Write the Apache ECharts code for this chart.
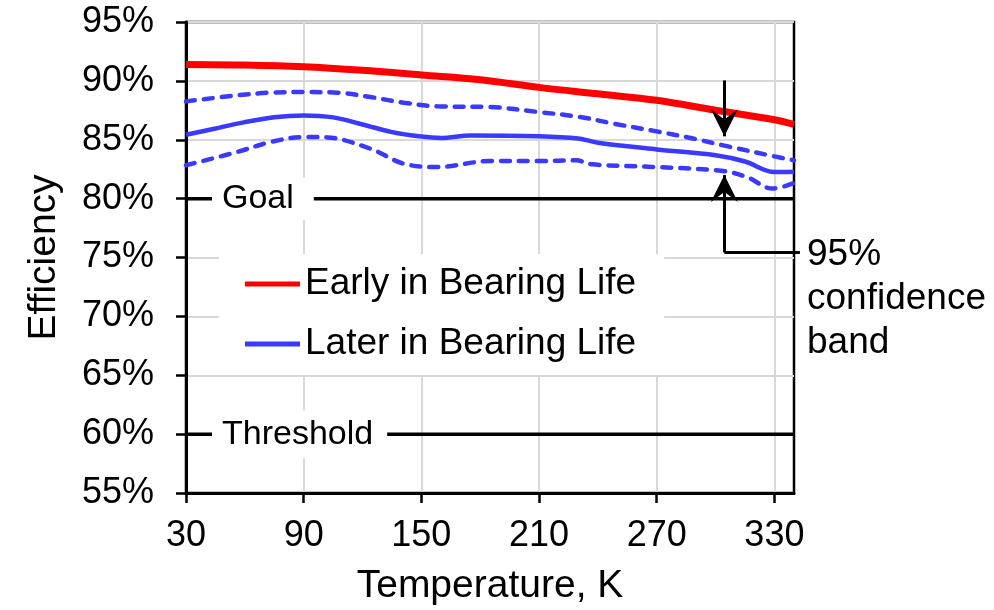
<!DOCTYPE html>
<html>
<head>
<meta charset="utf-8">
<title>Efficiency vs Temperature</title>
<script src="https://cdn.jsdelivr.net/npm/echarts@6/dist/echarts.min.js"></script>
<style>
html, body { margin: 0; padding: 0; background: #fff; }
#main { width: 994px; height: 610px; }
</style>
</head>
<body>
<div id="main"></div>
<script>
// data (temperature in K, efficiency in %)
var earlyTemp = [30, 60, 90, 120, 150, 180, 210, 240, 270, 300, 330, 340];
var earlyEff = [91.4, 91.35, 91.2, 90.9, 90.5, 90.1, 89.45, 88.9, 88.35, 87.5, 86.7, 86.3];

var laterTemp = [30, 45, 60, 75, 90, 105, 120, 135, 150, 160, 175, 210, 230, 240, 270, 300, 315, 330, 340];
var laterEff = [85.43, 85.95, 86.5, 86.92, 87.07, 86.9, 86.3, 85.65, 85.27, 85.15, 85.37, 85.3, 85.1, 84.75, 84.18, 83.68, 83.15, 82.26, 82.29];

// 95% confidence band of the later curve
var upperTemp = [30, 56, 73, 90, 107, 124, 141, 158, 185, 210, 231, 248, 270, 289, 304, 330, 340];
var upperEff = [88.26, 88.77, 89.0, 89.05, 89.0, 88.63, 88.15, 87.84, 87.78, 87.35, 86.93, 86.37, 85.71, 85.09, 84.52, 83.59, 83.25];
var lowerTemp = [30, 56, 73, 90, 102, 124, 141, 158, 185, 210, 229, 237, 270, 304, 316, 329, 340];
var lowerEff = [82.83, 83.96, 84.8, 85.23, 85.2, 84.24, 82.97, 82.68, 83.19, 83.19, 83.25, 82.91, 82.68, 82.34, 81.83, 80.85, 81.32];

var tempRange = [30, 340];
var tempTicks = [30, 90, 150, 210, 270, 330];
var goalLevel = [80, 80];
var thresholdLevel = [60, 60];
var legendNames = ["Early in Bearing Life", "Later in Bearing Life"];
var noteLines = ["95%", "confidence", "band"];

// where the band arrows sit
var bandX = 304.5;
var bandEndX = 343;
var downArrow = [90.04, 85.29];  // from, tip
var upArrow = [75.44, 82.0];     // from (elbow), tip

var FONT = "'Liberation Sans', Arial, sans-serif";
var BLUE = "#3a3aff";
// notched arrow head, tip on top
var ARROW = "path://M12,0 L24,24 L12,15 L0,24 Z";

function pairs(xs, ys) {
  return xs.map(function (x, i) { return [x, ys[i]]; });
}

function levelLabel(text, level, pad) {
  return {
    symbol: "rect",
    symbolSize: 0,
    silent: true,
    data: [{ coord: [tempRange[0], level] }],
    label: {
      show: true,
      position: "right",
      distance: 26,
      formatter: text,
      backgroundColor: "#fff",
      padding: pad,
      color: "#000",
      fontSize: 34,
      lineHeight: 34,
      fontFamily: FONT
    }
  };
}

var myChart = echarts.init(document.getElementById("main"));

var option = {
  animation: false,
  grid: {
    left: 186, right: 200, top: 22, bottom: 117,
    show: true, borderColor: "#000", borderWidth: 2.5,
    outerBoundsMode: "none"
  },
  legend: {
    data: legendNames,
    orient: "vertical",
    left: 219, top: 254,
    backgroundColor: "#fff",
    padding: [10, 28, 11, 26],
    itemGap: 20,
    itemWidth: 55,
    itemHeight: 5,
    icon: "rect",
    selectedMode: false,
    textStyle: { fontSize: 37, lineHeight: 40, color: "#000", fontFamily: FONT }
  },
  xAxis: {
    type: "value",
    min: tempRange[0],
    max: tempRange[1],
    name: "Temperature, K",
    nameLocation: "middle",
    nameGap: 74,
    nameTextStyle: { fontSize: 39, lineHeight: 39, color: "#000", fontFamily: FONT },
    axisLine: { lineStyle: { color: "#000", width: 3 } },
    axisTick: { customValues: tempTicks, length: 10, lineStyle: { color: "#000", width: 2.5 } },
    axisLabel: { customValues: tempTicks, margin: 25, fontSize: 36, lineHeight: 36, color: "#000", fontFamily: FONT },
    splitLine: { show: true, lineStyle: { color: "#d9d9d9", width: 2 } }
  },
  yAxis: {
    type: "value",
    min: 55,
    max: 95,
    interval: 5,
    name: "Efficiency",
    nameLocation: "middle",
    nameGap: 122,
    nameTextStyle: { fontSize: 39, lineHeight: 39, color: "#000", fontFamily: FONT },
    axisLine: { show: true, lineStyle: { color: "#000", width: 3 } },
    axisTick: { show: true, length: 10, lineStyle: { color: "#000", width: 2.5 } },
    axisLabel: { formatter: "{value}%", margin: 32, fontSize: 36, color: "#000", fontFamily: FONT },
    splitLine: { show: true, lineStyle: { color: "#d9d9d9", width: 2 } }
  },
  graphic: [{
    type: "text",
    left: 807,
    top: 233,
    silent: true,
    style: { text: noteLines.join("\n"), fontSize: 37, lineHeight: 44, fontFamily: FONT, fill: "#000" }
  }],
  series: [
    {
      name: "Goal",
      type: "line",
      data: pairs(tempRange, goalLevel),
      symbol: "none",
      silent: true,
      lineStyle: { color: "#000", width: 3.5 },
      markPoint: levelLabel("Goal", goalLevel[0], [4, 20, 4, 10])
    },
    {
      name: "Threshold",
      type: "line",
      data: pairs(tempRange, thresholdLevel),
      symbol: "none",
      silent: true,
      lineStyle: { color: "#000", width: 3.5 },
      markPoint: levelLabel("Threshold", thresholdLevel[0], [7, 14, 7, 10])
    },
    {
      name: "Later upper",
      type: "line",
      data: pairs(upperTemp, upperEff),
      smooth: 0.35,
      symbol: "none",
      color: BLUE,
      lineStyle: { color: BLUE, width: 4.5, type: [9, 9], cap: "round" }
    },
    {
      name: "Later lower",
      type: "line",
      data: pairs(lowerTemp, lowerEff),
      smooth: 0.35,
      symbol: "none",
      color: BLUE,
      lineStyle: { color: BLUE, width: 4.5, type: [9, 9], cap: "round" }
    },
    {
      name: legendNames[1],
      type: "line",
      data: pairs(laterTemp, laterEff),
      smooth: 0.35,
      symbol: "none",
      color: BLUE,
      lineStyle: { color: BLUE, width: 4.5 }
    },
    {
      name: legendNames[0],
      type: "line",
      data: pairs(earlyTemp, earlyEff),
      smooth: 0.35,
      symbol: "none",
      color: "#ff0000",
      lineStyle: { color: "#ff0000", width: 7 }
    },
    {
      // arrow stems and the elbow out to the note
      type: "lines",
      coordinateSystem: "cartesian2d",
      silent: true,
      clip: false,
      z: 6,
      symbol: ["none", "none"],
      lineStyle: { color: "#000", width: 3, opacity: 1, curveness: 0 },
      data: [
        { coords: [[bandX, downArrow[0]], [bandX, downArrow[1]]] },
        { coords: [[bandX, upArrow[0]], [bandX, upArrow[1]]] },
        { coords: [[bandX, upArrow[0]], [bandEndX, upArrow[0]]] }
      ]
    },
    {
      // arrow heads; offset is in screen space, so the tip lands on the point
      type: "scatter",
      silent: true,
      z: 7,
      symbol: ARROW,
      symbolSize: [27, 27],
      itemStyle: { color: "#000", opacity: 1 },
      data: [
        { value: [bandX, downArrow[1]], symbolRotate: 180, symbolOffset: [0, "-50%"] },
        { value: [bandX, upArrow[1]], symbolRotate: 0, symbolOffset: [0, "50%"] }
      ]
    }
  ]
};

myChart.setOption(option);
</script>
</body>
</html>
